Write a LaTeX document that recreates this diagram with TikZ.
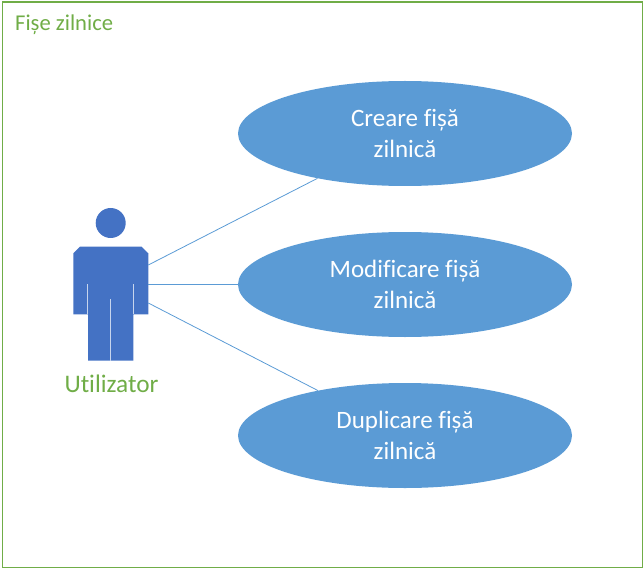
\documentclass[tikz,border=0pt]{standalone}
\usepackage{fontspec}
\setmainfont{Carlito}[Ligatures=NoCommon]
\usetikzlibrary{shapes.geometric}
\definecolor{frameg}{HTML}{70AD47}
\definecolor{usecase}{HTML}{5B9BD5}
\definecolor{actor}{HTML}{4472C4}
\tikzset{
  usecasenode/.style={ellipse,fill=usecase,draw=none,inner sep=0pt,minimum width=334pt,minimum height=105pt,
    text=white,align=center,font=\fontsize{25}{30.5}\selectfont},
  link/.style={draw=usecase,line width=0.8pt},
  seam/.style={draw=white!70!actor,line width=0.9pt}
}
\begin{document}
\begin{tikzpicture}[x=1pt,y=-1pt]
\useasboundingbox (0,0) rectangle (644,569);
\node[draw=frameg,line width=1.2pt,minimum width=640.5pt,minimum height=565.5pt,inner sep=0pt,anchor=north west] (frame) at (1.5,1.5) {};
\node[text=frameg,font=\fontsize{22.6}{26}\selectfont,anchor=west,inner sep=0pt] (title) at (15,25) {Fișe zilnice};
\node[usecasenode] (e1) at (405,133.5) {Creare fișă\\zilnică};
\node[usecasenode] (e2) at (405,284.5) {Modificare fișă\\zilnică};
\node[usecasenode] (e3) at (405,435.5) {Duplicare fișă\\zilnică};
% actor
\node[circle,fill=actor,draw=none,minimum size=30pt,inner sep=0pt] (head) at (110.7,223) {};
\fill[actor] (80,246.7) -- (141.5,246.7) -- (148.3,253.3) -- (148.3,314.3) -- (133.3,314.3) -- (133.3,360.7)
  -- (88,360.7) -- (88,314.3) -- (73.3,314.3) -- (73.3,253.3) -- cycle;
\draw[seam] (87.6,284) -- (87.6,314.3);
\draw[seam] (133.7,284) -- (133.7,314.3);
\draw[seam] (110.7,299) -- (110.7,360.7);
\coordinate (a1) at (148.3,265);
\coordinate (a2) at (148.3,284.5);
\coordinate (a3) at (148.3,303);
\draw[link] (a1) -- (e1);
\draw[link] (a2) -- (e2);
\draw[link] (a3) -- (e3);
\node[text=frameg,font=\fontsize{25.3}{28}\selectfont,inner sep=0pt] (actorlabel) at (111.5,384) {Utilizator};
\end{tikzpicture}
\end{document}
